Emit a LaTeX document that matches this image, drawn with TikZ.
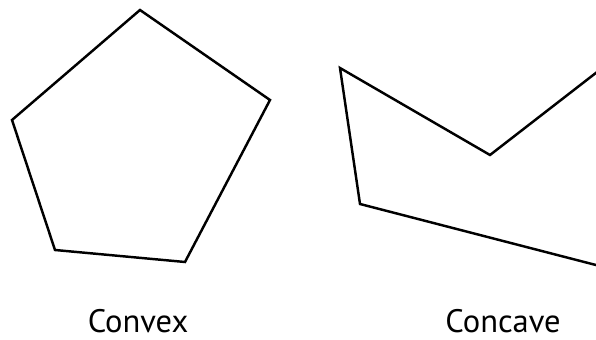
\documentclass[tikz,border=0pt]{standalone}
\usepackage{fontspec}
\setmainfont{PT Sans}
\begin{document}
\begin{tikzpicture}[
        x=0.02cm, y=-0.02cm,
        outline/.style={draw=black, line width=1.4pt, line join=miter},
        caption/.style={font=\fontsize{18.5}{22}\selectfont, text=black, inner sep=0pt, anchor=base}
    ]
    \useasboundingbox (0,0) rectangle (596,340);
    \clip (0,0) rectangle (596,340);

    % Left shape - Convex pentagon
    \coordinate (P1) at (140,10);
    \coordinate (P2) at (270,100);
    \coordinate (P3) at (185,262);
    \coordinate (P4) at (55,250);
    \coordinate (P5) at (12,120);
    \draw[outline] (P1) -- (P2) -- (P3) -- (P4) -- (P5) -- cycle;

    % Right shape - Concave, running off the right edge
    \coordinate (Q1) at (340,68);
    \coordinate (Q2) at (490,155);
    \coordinate (Q3) at (650,31);
    \coordinate (Q4) at (650,279);
    \coordinate (Q5) at (360,204);
    \draw[outline] (Q1) -- (Q2) -- (Q3) -- (Q4) -- (Q5) -- cycle;

    % Labels
    \node[caption] (convex) at (138,333) {Convex};
    \node[caption] (concave) at (503,333) {Concave};
\end{tikzpicture}
\end{document}
